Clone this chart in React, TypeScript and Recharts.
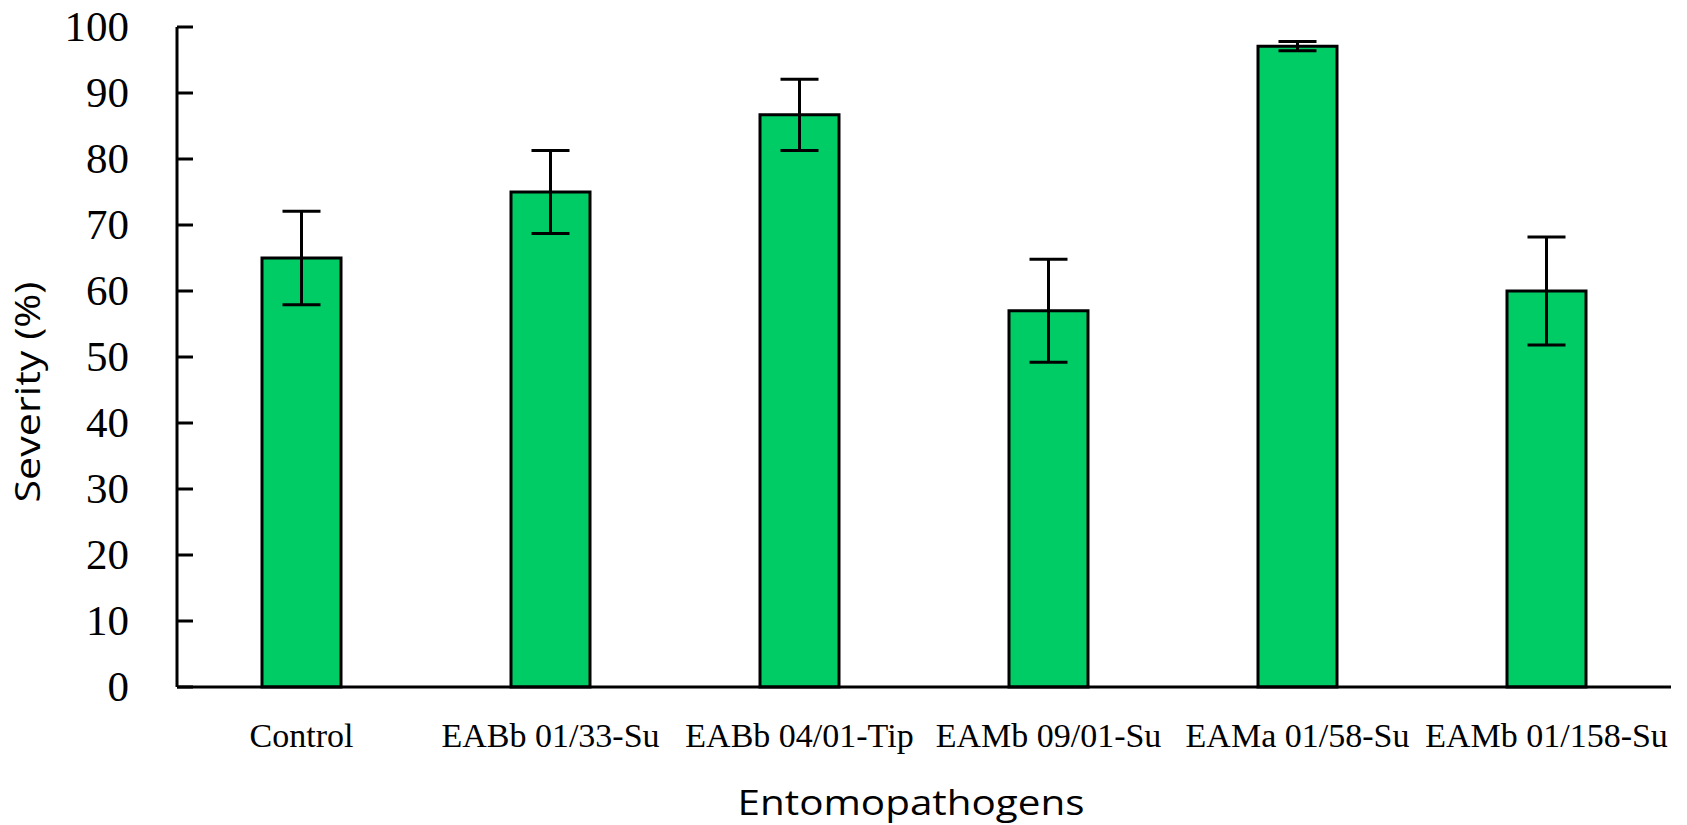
import { Bar, BarChart, ErrorBar, XAxis, YAxis } from "recharts";

const categories = ["Control", "EABb 01/33-Su", "EABb 04/01-Tip", "EAMb 09/01-Su", "EAMa 01/58-Su", "EAMb 01/158-Su"];
const severity = [65, 75, 86.7, 57, 97.1, 60];
const severityErr = [7.1, 6.3, 5.4, 7.8, 0.7, 8.2];
const yTicks = [0, 10, 20, 30, 40, 50, 60, 70, 80, 90, 100];

const data = categories.map((name, i) => ({ name, severity: severity[i], err: severityErr[i] }));

const serif = "'Liberation Serif', 'Times New Roman', serif";
const sans = "'Open Sans', 'Noto Sans', sans-serif";

function YTick(props: any) {
  const { x, y, payload } = props;
  return (
    <g>
      <line x1={x} x2={x + 16} y1={y} y2={y} stroke="#000" strokeWidth={3} />
      <text x={x - 48} y={y + 14} textAnchor="end" fontFamily={serif} fontSize={43} fill="#000">
        {payload.value}
      </text>
    </g>
  );
}

function XTick(props: any) {
  const { x, y, payload } = props;
  return (
    <text x={x} y={y + 60} textAnchor="middle" fontFamily={serif} fontSize={34} fill="#000">
      {payload.value}
    </text>
  );
}

function XTitle(props: any) {
  const vb = props.viewBox;
  return (
    <text x={vb.x + vb.width / 2 - 13} y={vb.y + 128} textAnchor="middle" fontFamily={sans} fontSize={34}
      textLength={347} lengthAdjust="spacingAndGlyphs" fill="#000">
      Entomopathogens
    </text>
  );
}

function YTitle(props: any) {
  const vb = props.viewBox;
  const cx = 40;
  const cy = vb.y + vb.height / 2 + 35;
  return (
    <text x={cx} y={cy} transform={`rotate(-90, ${cx}, ${cy})`} textAnchor="middle" fontFamily={sans} fontSize={34}
      textLength={221} lengthAdjust="spacingAndGlyphs" fill="#000">
      Severity (%)
    </text>
  );
}

export default function App() {
  return (
    <div style={{ width: 1687, height: 825, background: "#fff" }}>
      <style>{"body{margin:0}"}</style>
      <BarChart width={1687} height={825} data={data} margin={{ top: 27, right: 16, bottom: 0, left: 0 }} barSize={79}>
        <XAxis dataKey="name" height={138} interval={0} axisLine={{ stroke: "#000", strokeWidth: 3 }} tickLine={false}
          tickSize={0} tickMargin={0} tick={<XTick />} label={<XTitle />} />
        <YAxis domain={[0, 100]} ticks={yTicks} interval={0} width={177} axisLine={{ stroke: "#000", strokeWidth: 3 }}
          tickLine={false} tickSize={0} tickMargin={0} tick={<YTick />} label={<YTitle />} />
        <Bar dataKey="severity" fill="#00cc66" stroke="#000" strokeWidth={3} isAnimationActive={false}>
          <ErrorBar dataKey="err" width={19} stroke="#000" strokeWidth={3} isAnimationActive={false} />
        </Bar>
      </BarChart>
    </div>
  );
}
